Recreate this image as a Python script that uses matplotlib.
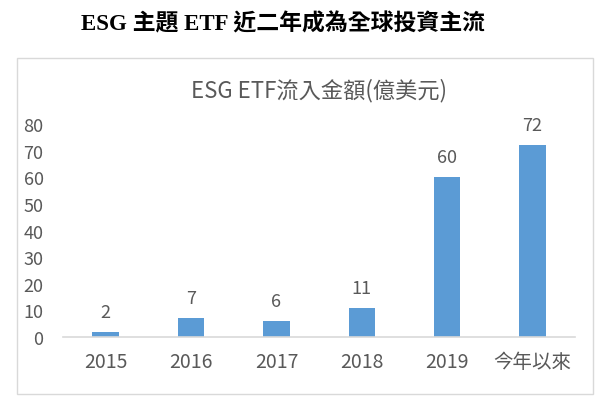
import matplotlib.pyplot as plt
from matplotlib.patches import Rectangle

categories = ['2015', '2016', '2017', '2018', '2019', '今年以來']
inflows = [2, 7, 6, 11, 60, 72]
yticks = [0, 10, 20, 30, 40, 50, 60, 70, 80]

plt.rcParams['font.family'] = ['Noto Sans CJK TC', 'DejaVu Sans']
gray = '#595959'
blue = '#5B9BD5'

fig = plt.figure(figsize=(6.12, 4.06), dpi=100)
fig.patch.set_facecolor('white')

# outer frame of the chart box
fig.patches.append(Rectangle((0.028, 0.027), 0.941, 0.828, transform=fig.transFigure,
                             fill=False, edgecolor='#D9D9D9', linewidth=1))

fig.text(0.4625, 0.94, 'ESG 主題 ETF 近二年成為全球投資主流', ha='center', va='center',
         fontsize=16.5, fontweight='bold', color='black',
         family=['Liberation Serif', 'Noto Sans CJK TC'])

ax = fig.add_axes([0.103, 0.1675, 0.837, 0.5245])
x = range(len(categories))
bars = ax.bar(x, inflows, width=0.31, color=blue)
for b, v in zip(bars, inflows):
    ax.annotate(str(v), (b.get_x() + b.get_width() / 2, v), xytext=(0, 8),
                textcoords='offset points', ha='center', va='bottom',
                fontsize=13, color=gray)

ax.set_xlim(-0.5, len(categories) - 0.5)
ax.set_ylim(0, 80)
ax.set_yticks(yticks)
ax.set_xticks(list(x))
ax.set_xticklabels(categories)
ax.tick_params(axis='both', length=0, labelsize=13, labelcolor=gray)
ax.tick_params(axis='x', pad=10, labelsize=14)
ax.tick_params(axis='y', pad=14)
for s in ['top', 'right', 'left']:
    ax.spines[s].set_visible(False)
ax.spines['bottom'].set_color('#D9D9D9')
ax.spines['bottom'].set_linewidth(1.2)

fig.text(0.521, 0.778, 'ESG ETF流入金額(億美元)', ha='center', va='center',
         fontsize=16, color=gray)

fig.savefig('out.png', dpi=100)
